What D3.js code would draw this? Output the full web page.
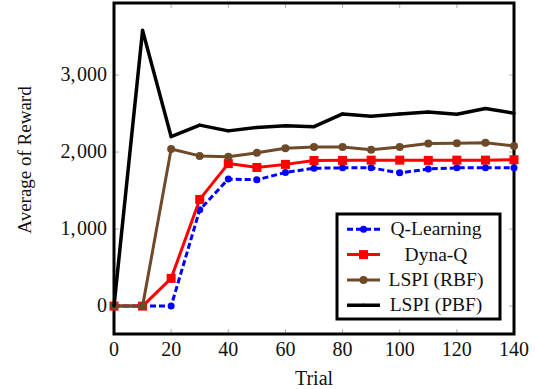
<!DOCTYPE html>
<html>
<head>
<meta charset="utf-8">
<script src="https://cdn.jsdelivr.net/npm/d3@7"></script>
<style>
body { margin: 0; background: #fff; }
text { font-family: "Liberation Serif", "DejaVu Serif", serif; fill: #111; }
</style>
</head>
<body>
<script>
let trials = [0, 10, 20, 30, 40, 50, 60, 70, 80, 90, 100, 110, 120, 130, 140];
let qLearning = [0, 0, 0, 1250, 1650, 1640, 1735, 1790, 1795, 1795, 1730, 1780, 1795, 1795, 1795];
let dynaQ = [0, 0, 360, 1385, 1850, 1800, 1840, 1890, 1892, 1895, 1895, 1892, 1895, 1895, 1900];
let lspiRBF = [0, 0, 2040, 1950, 1940, 1990, 2050, 2065, 2065, 2030, 2065, 2110, 2115, 2120, 2080];
let lspiPBF = [0, 3580, 2200, 2350, 2275, 2320, 2340, 2330, 2495, 2465, 2495, 2520, 2490, 2565, 2505];
let xTicks = [0, 20, 40, 60, 80, 100, 120, 140];
let yTicks = [0, 1000, 2000, 3000];
let seriesNames = ["Q-Learning", "Dyna-Q", "LSPI (RBF)", "LSPI (PBF)"];

let size = {width: 535, height: 389};
let margin = {top: 3, right: 21, bottom: 55, left: 114};
let svg = d3.select("body").append("svg")
    .attr("width", size.width).attr("height", size.height);

let x = d3.scaleLinear().domain([0, 140])
    .range([margin.left, size.width - margin.right]);
let y = d3.scaleLinear().domain([-362, 3935])
    .range([size.height - margin.bottom, margin.top]);

// ticks (inside, mirrored)
let tickLen = 5;
let tg = svg.append("g").attr("stroke", "#999").attr("stroke-width", 0.8);
xTicks.forEach(t => {
    tg.append("line").attr("x1", x(t)).attr("x2", x(t))
        .attr("y1", y.range()[0]).attr("y2", y.range()[0] - tickLen);
    tg.append("line").attr("x1", x(t)).attr("x2", x(t))
        .attr("y1", y.range()[1]).attr("y2", y.range()[1] + tickLen);
});
yTicks.forEach(t => {
    tg.append("line").attr("x1", x.range()[0]).attr("x2", x.range()[0] + tickLen)
        .attr("y1", y(t)).attr("y2", y(t));
    tg.append("line").attr("x1", x.range()[1]).attr("x2", x.range()[1] - tickLen)
        .attr("y1", y(t)).attr("y2", y(t));
});

// frame
svg.append("rect")
    .attr("x", x.range()[0]).attr("y", y.range()[1])
    .attr("width", x.range()[1] - x.range()[0])
    .attr("height", y.range()[0] - y.range()[1])
    .attr("fill", "none").attr("stroke", "#000").attr("stroke-width", 3);

// tick labels
svg.append("g").selectAll("text").data(xTicks).join("text")
    .attr("x", d => x(d)).attr("y", 356)
    .attr("text-anchor", "middle").attr("font-size", 20)
    .text(d => d);
svg.append("g").selectAll("text").data(yTicks).join("text")
    .attr("x", 107).attr("y", d => y(d) + 6)
    .attr("text-anchor", "end").attr("font-size", 20)
    .each(function(d) {
        let parts = d3.format(",")(d).split(",");
        let t = d3.select(this);
        if (parts.length > 1) {
            t.append("tspan").text(parts[0] + ",");
            t.append("tspan").attr("dx", 1.5).text(parts[1]);
        } else {
            t.text(parts[0]);
        }
    });

svg.append("text").attr("x", x(70)).attr("y", 385)
    .attr("text-anchor", "middle").attr("font-size", 20).text("Trial");
svg.append("text")
    .attr("transform", "translate(31,160) rotate(-90)")
    .attr("text-anchor", "middle").attr("font-size", 19).text("Average of Reward");

let series = [
    {name: seriesNames[0], values: qLearning, color: "#0000ff", dash: "6,3", marker: "circle", r: 3.5, w: 3},
    {name: seriesNames[1], values: dynaQ, color: "#ff0000", dash: null, marker: "square", r: 4.5, w: 3},
    {name: seriesNames[2], values: lspiRBF, color: "#6e4a28", dash: null, marker: "circle", r: 4, w: 3},
    {name: seriesNames[3], values: lspiPBF, color: "#000000", dash: null, marker: "circle", r: 1.6, w: 3.5}
];

let line = d3.line().x(d => x(d[0])).y(d => y(d[1]));

function drawMarker(g, s, cx, cy) {
    if (s.marker === "square") {
        g.append("rect").attr("x", cx - s.r).attr("y", cy - s.r)
            .attr("width", 2 * s.r).attr("height", 2 * s.r).attr("fill", s.color);
    } else {
        g.append("circle").attr("cx", cx).attr("cy", cy).attr("r", s.r).attr("fill", s.color);
    }
}

series.forEach(s => {
    let pts = trials.map((t, i) => [t, s.values[i]]);
    let g = svg.append("g");
    g.append("path").datum(pts).attr("d", line)
        .attr("fill", "none").attr("stroke", s.color).attr("stroke-width", s.w)
        .attr("stroke-linejoin", "round")
        .attr("stroke-dasharray", s.dash);
    pts.forEach(p => drawMarker(g, s, x(p[0]), y(p[1])));
});

// legend
let lg = svg.append("g");
lg.append("rect").attr("x", 337).attr("y", 214).attr("width", 163).attr("height", 105)
    .attr("fill", "#fff").attr("stroke", "#000").attr("stroke-width", 3);
series.forEach((s, i) => {
    let ly = 229.3 + i * 25.3;
    lg.append("line").attr("x1", 347).attr("x2", 380).attr("y1", ly).attr("y2", ly)
        .attr("stroke", s.color).attr("stroke-width", s.w)
        .attr("stroke-dasharray", s.dash);
    drawMarker(lg, s, 363.5, ly);
    lg.append("text").attr("x", 436).attr("y", ly + 6)
        .attr("text-anchor", "middle").attr("font-size", 19.5).text(s.name);
});
</script>
</body>
</html>
